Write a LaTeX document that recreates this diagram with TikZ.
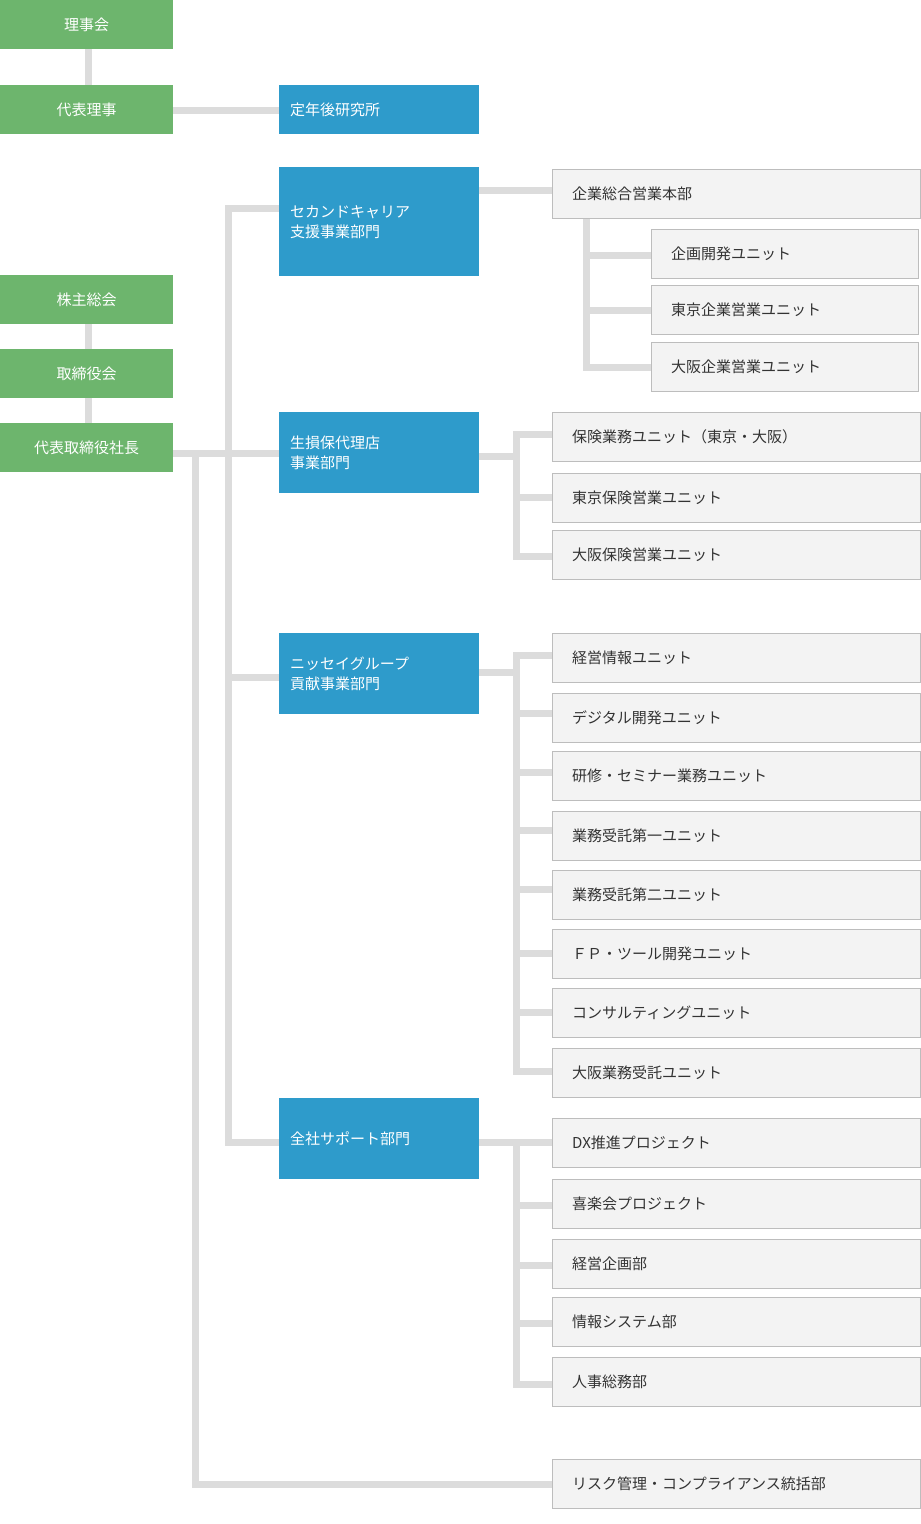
\documentclass[tikz,border=0pt]{standalone}
\usepackage{fontspec}
\setmainfont{Noto Sans CJK JP}
\definecolor{kgreen}{HTML}{6DB56D}
\definecolor{kblue}{HTML}{2E9BCB}
\definecolor{kline}{HTML}{DCDCDC}
\definecolor{kbox}{HTML}{F3F3F3}
\definecolor{kedge}{HTML}{BDBDBD}
\tikzset{
  boardbox/.style={fill=kgreen,text=white,anchor=north west,minimum width=173pt,minimum height=49pt,inner sep=0pt,font=\fontsize{15}{18}\selectfont},
  deptbox/.style={fill=kblue,text=white,anchor=north west,minimum width=200pt,text width=178pt,inner xsep=11pt,align=left,font=\fontsize{15}{20}\selectfont},
  unitbox/.style={fill=kbox,draw=kedge,anchor=north west,minimum height=49pt,text width=328pt,inner xsep=20pt,align=left,text=black!80,font=\fontsize{15}{18}\selectfont},
  link/.style={draw=kline,line width=7pt}
}
\begin{document}
\begin{tikzpicture}[x=1pt,y=-1pt]
\useasboundingbox (0,0) rectangle (921,1524);

%% links first
\draw[link] (88,46) -- (88,85);
\draw[link] (88,324) -- (88,423);
\draw[link] (173,110) -- (279,110);
\draw[link] (173,453) -- (279,453);
\draw[link] (279,208) -- (228,208) -- (228,1142) -- (279,1142);
\draw[link] (228,677) -- (279,677);
\draw[link] (195,453) -- (195,1484) -- (552,1484);
\draw[link] (479,190) -- (552,190);
\draw[link] (586,218) -- (586,367) -- (651,367);
\foreach \y in {255,310} \draw[link] (586,\y) -- (651,\y);
\draw[link] (479,456) -- (516,456);
\draw[link] (552,434) -- (516,434) -- (516,556) -- (552,556);
\draw[link] (516,497) -- (552,497);
\draw[link] (479,672) -- (516,672);
\draw[link] (552,655) -- (516,655) -- (516,1071) -- (552,1071);
\foreach \y in {713,772,830,889,953,1012} \draw[link] (516,\y) -- (552,\y);
\draw[link] (479,1142) -- (552,1142);
\draw[link] (516,1142) -- (516,1384) -- (552,1384);
\foreach \y in {1205,1265,1323} \draw[link] (516,\y) -- (552,\y);

%% board
\node[boardbox] (rjk) at (0,0) {理事会};
\node[boardbox] (dhr) at (0,85) {代表理事};
\node[boardbox] (kns) at (0,275) {株主総会};
\node[boardbox] (tsk) at (0,349) {取締役会};
\node[boardbox] (sch) at (0,423) {代表取締役社長};

%% departments
\node[deptbox,minimum height=49pt] (tnk) at (279,85) {定年後研究所};
\node[deptbox,minimum height=109pt] (scd) at (279,167) {セカンドキャリア\\支援事業部門};
\node[deptbox,minimum height=81pt] (sns) at (279,412) {生損保代理店\\事業部門};
\node[deptbox,minimum height=81pt] (nsg) at (279,633) {ニッセイグループ\\貢献事業部門};
\node[deptbox,minimum height=81pt] (zsp) at (279,1098) {全社サポート部門};

%% units
\node[unitbox] (kso) at (552,169) {企業総合営業本部};
\node[unitbox,text width=227pt] (kk1) at (651,229) {企画開発ユニット};
\node[unitbox,text width=227pt] (kk2) at (651,285) {東京企業営業ユニット};
\node[unitbox,text width=227pt] (kk3) at (651,342) {大阪企業営業ユニット};
\foreach \n/\y/\t in {hk1/412/保険業務ユニット（東京・大阪）,hk2/473/東京保険営業ユニット,hk3/530/大阪保険営業ユニット,
  ns1/633/経営情報ユニット,ns2/693/デジタル開発ユニット,ns3/751/研修・セミナー業務ユニット,ns4/811/業務受託第一ユニット,
  ns5/870/業務受託第二ユニット,ns6/929/ＦＰ・ツール開発ユニット,ns7/988/コンサルティングユニット,ns8/1048/大阪業務受託ユニット,
  zs1/1118/DX推進プロジェクト,zs2/1179/喜楽会プロジェクト,zs3/1239/経営企画部,zs4/1297/情報システム部,zs5/1357/人事総務部,
  rsk/1459/リスク管理・コンプライアンス統括部}
  \node[unitbox] (\n) at (552,\y) {\t};
\end{tikzpicture}
\end{document}
